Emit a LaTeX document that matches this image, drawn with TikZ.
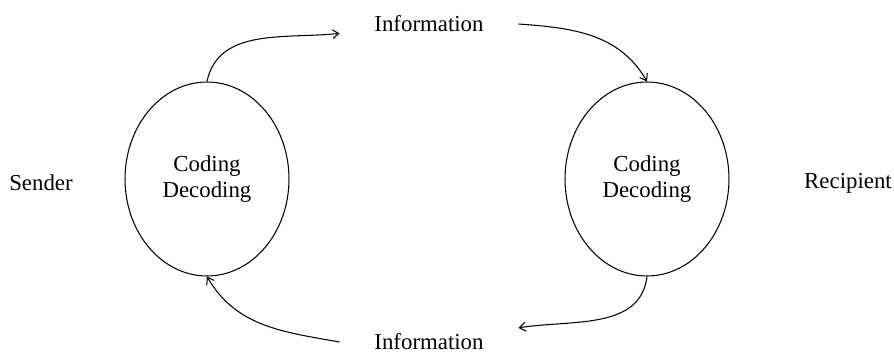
\documentclass[tikz,border=0pt]{standalone}
\usepackage{fontspec}
\setmainfont{Liberation Serif}
\usetikzlibrary{shapes.geometric,arrows.meta}
\begin{document}
\begin{tikzpicture}[x=0.02cm,y=0.02cm,font=\fontsize{13}{14.5}\selectfont,
  >={Straight Barb[length=3.5pt,width=5pt]},
  codec/.style={draw,ellipse,line width=0.6pt,minimum width=3.28cm,minimum height=3.88cm,align=center},
  info/.style={inner xsep=0.69cm},
  every edge/.style={draw,line width=0.6pt}]
\useasboundingbox (0,0) rectangle (894,353);
\node (sender) at (41,170) {Sender};
\node (recipient) at (848,170) {Recipient};
\node[codec] (coder-s) at (207,174) {Coding\\Decoding};
\node[codec] (coder-r) at (647,174) {Coding\\Decoding};
\node[info] (info-top) at (429,329) {Information} edge [<-, out=186, in=78] (coder-s.north);
\node[info] (info-bottom) at (429,11) {Information} edge [<-, out=9, in=-97] (coder-r.south);
\draw (info-top.east) edge [->, out=-4, in=120] (coder-r.north);
\draw (info-bottom.west) edge [->, out=170, in=-60] (coder-s.south);
\end{tikzpicture}
\end{document}
